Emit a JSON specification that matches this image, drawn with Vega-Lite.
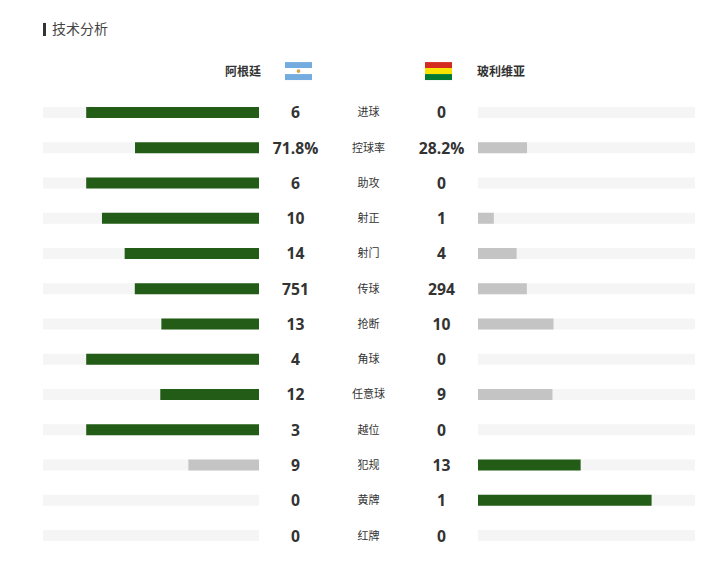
{
"$schema":"https://vega.github.io/schema/vega-lite/v6.json",
"padding":{"left":43,"right":11,"top":0,"bottom":0},
"autosize":{"type":"pad","contains":"content"},
"background":"white",
"bounds":"flush",
"spacing":0,
"config":{"view":{"stroke":null},"text":{"font":"Noto Sans CJK SC"},"concat":{"spacing":0}},
"datasets":{
"stats":[
{"row":0,"stat":"进球","home":"6","away":"0","homeShare":80,"awayShare":0,"homeResult":"lead","awayResult":"trail"},
{"row":1,"stat":"控球率","home":"71.8%","away":"28.2%","homeShare":57.4,"awayShare":22.6,"homeResult":"lead","awayResult":"trail"},
{"row":2,"stat":"助攻","home":"6","away":"0","homeShare":80,"awayShare":0,"homeResult":"lead","awayResult":"trail"},
{"row":3,"stat":"射正","home":"10","away":"1","homeShare":72.7,"awayShare":7.3,"homeResult":"lead","awayResult":"trail"},
{"row":4,"stat":"射门","home":"14","away":"4","homeShare":62.2,"awayShare":17.8,"homeResult":"lead","awayResult":"trail"},
{"row":5,"stat":"传球","home":"751","away":"294","homeShare":57.5,"awayShare":22.5,"homeResult":"lead","awayResult":"trail"},
{"row":6,"stat":"抢断","home":"13","away":"10","homeShare":45.2,"awayShare":34.8,"homeResult":"lead","awayResult":"trail"},
{"row":7,"stat":"角球","home":"4","away":"0","homeShare":80,"awayShare":0,"homeResult":"lead","awayResult":"trail"},
{"row":8,"stat":"任意球","home":"12","away":"9","homeShare":45.7,"awayShare":34.3,"homeResult":"lead","awayResult":"trail"},
{"row":9,"stat":"越位","home":"3","away":"0","homeShare":80,"awayShare":0,"homeResult":"lead","awayResult":"trail"},
{"row":10,"stat":"犯规","home":"9","away":"13","homeShare":32.7,"awayShare":47.3,"homeResult":"trail","awayResult":"lead"},
{"row":11,"stat":"黄牌","home":"0","away":"1","homeShare":0,"awayShare":80,"homeResult":"trail","awayResult":"lead"},
{"row":12,"stat":"红牌","home":"0","away":"0","homeShare":0,"awayShare":0,"homeResult":"trail","awayResult":"trail"}
],
"flags":[
{"team":"阿根廷","stripe":"top","top":-1.43,"bottom":-1.26,"color":"#74acdf"},
{"team":"阿根廷","stripe":"mid","top":-1.26,"bottom":-1.09,"color":"#ffffff"},
{"team":"阿根廷","stripe":"low","top":-1.09,"bottom":-0.92,"color":"#74acdf"},
{"team":"玻利维亚","stripe":"top","top":-1.43,"bottom":-1.26,"color":"#d52b1e"},
{"team":"玻利维亚","stripe":"mid","top":-1.26,"bottom":-1.09,"color":"#f9e300"},
{"team":"玻利维亚","stripe":"low","top":-1.09,"bottom":-0.92,"color":"#007a33"}
]
},
"hconcat":[
{
"width":216,"height":574,
"data":{"name":"stats"},
"layer":[
{"mark":{"type":"bar","orient":"horizontal","size":11,"color":"#f5f5f5"},
 "encoding":{"x":{"datum":100,"type":"quantitative","scale":{"domain":[0,100],"reverse":true,"nice":false,"padding":0},"axis":null},
 "y":{"field":"row","type":"quantitative","scale":{"domain":[-3.191,13.092],"reverse":true,"nice":false,"zero":false,"padding":0},"axis":null}}},
{"mark":{"type":"bar","orient":"horizontal","size":11},
 "encoding":{"x":{"field":"homeShare","type":"quantitative","scale":{"domain":[0,100],"reverse":true,"nice":false,"padding":0},"axis":null},
 "y":{"field":"row","type":"quantitative","scale":{"domain":[-3.191,13.092],"reverse":true,"nice":false,"zero":false,"padding":0},"axis":null},
 "color":{"field":"homeResult","type":"nominal","scale":{"domain":["lead","trail"],"range":["#225c16","#c4c4c4"]},"legend":null}}},
{"data":{"values":[{"label":"技术分析","row":-2.355}]},
 "mark":{"type":"text","align":"left","baseline":"middle","fontSize":14,"color":"#444444","dy":1},
 "encoding":{"x":{"datum":95.8,"type":"quantitative"},"y":{"field":"row","type":"quantitative"},"text":{"field":"label"}}},
{"data":{"values":[{"label":"技术分析","top":-2.54,"bottom":-2.17}]},
 "mark":{"type":"rect","color":"#333333"},
 "encoding":{"x":{"datum":100,"type":"quantitative"},"x2":{"datum":98.6},"y":{"field":"top","type":"quantitative"},"y2":{"field":"bottom"}}}
]
},
{
"width":219,"height":574,
"layer":[
{"data":{"name":"stats"},"mark":{"type":"text","baseline":"middle","fontSize":11,"color":"#333333","dy":1},
 "encoding":{"x":{"datum":0,"type":"quantitative","scale":{"domain":[-109.5,109.5],"nice":false},"axis":null},
 "y":{"field":"row","type":"quantitative","scale":{"domain":[-3.191,13.092],"reverse":true,"nice":false,"zero":false},"axis":null},
 "text":{"field":"stat"}}},
{"data":{"name":"stats"},"mark":{"type":"text","baseline":"middle","fontSize":15.7,"fontWeight":"bold","font":"Open Sans","color":"#333333","dy":1},
 "encoding":{"x":{"datum":-73,"type":"quantitative"},"y":{"field":"row","type":"quantitative"},"text":{"field":"home"}}},
{"data":{"name":"stats"},"mark":{"type":"text","baseline":"middle","fontSize":15.7,"fontWeight":"bold","font":"Open Sans","color":"#333333","dy":1},
 "encoding":{"x":{"datum":73,"type":"quantitative"},"y":{"field":"row","type":"quantitative"},"text":{"field":"away"}}},
{"data":{"values":[{"team":"阿根廷","row":-1.163}]},"mark":{"type":"text","align":"right","baseline":"middle","fontSize":12,"fontWeight":"bold","color":"#333333","dy":1},
 "encoding":{"x":{"datum":-107.5,"type":"quantitative"},"y":{"field":"row","type":"quantitative"},"text":{"field":"team"}}},
{"data":{"name":"flags"},"transform":[{"filter":"datum.team==='阿根廷'"}],"mark":{"type":"rect"},
 "encoding":{"x":{"datum":-83.5,"type":"quantitative"},"x2":{"datum":-56.5},"y":{"field":"top","type":"quantitative"},"y2":{"field":"bottom"},"color":{"field":"color","type":"nominal","scale":null}}},
{"data":{"name":"flags"},"transform":[{"filter":"datum.team==='玻利维亚'"}],"mark":{"type":"rect"},
 "encoding":{"x":{"datum":56.5,"type":"quantitative"},"x2":{"datum":83.5},"y":{"field":"top","type":"quantitative"},"y2":{"field":"bottom"},"color":{"field":"color","type":"nominal","scale":null}}},
{"data":{"values":[{"team":"阿根廷","row":-1.175}]},"mark":{"type":"point","filled":true,"size":14,"color":"#e0a040","opacity":1},
 "encoding":{"x":{"datum":-70,"type":"quantitative"},"y":{"field":"row","type":"quantitative"}}}
]
},
{
"width":217,"height":574,
"data":{"name":"stats"},
"layer":[
{"mark":{"type":"bar","orient":"horizontal","size":11,"color":"#f5f5f5"},
 "encoding":{"x":{"datum":100,"type":"quantitative","scale":{"domain":[0,100],"nice":false,"padding":0},"axis":null},
 "y":{"field":"row","type":"quantitative","scale":{"domain":[-3.191,13.092],"reverse":true,"nice":false,"zero":false,"padding":0},"axis":null}}},
{"mark":{"type":"bar","orient":"horizontal","size":11},
 "encoding":{"x":{"field":"awayShare","type":"quantitative","scale":{"domain":[0,100],"nice":false,"padding":0},"axis":null},
 "y":{"field":"row","type":"quantitative","scale":{"domain":[-3.191,13.092],"reverse":true,"nice":false,"zero":false,"padding":0},"axis":null},
 "color":{"field":"awayResult","type":"nominal","scale":{"domain":["lead","trail"],"range":["#225c16","#c4c4c4"]},"legend":null}}},
{"data":{"values":[{"team":"玻利维亚","row":-1.163}]},"mark":{"type":"text","align":"left","baseline":"middle","fontSize":12,"fontWeight":"bold","dx":-1,"dy":1,"color":"#333333"},
 "encoding":{"x":{"datum":0,"type":"quantitative"},"y":{"field":"row","type":"quantitative"},"text":{"field":"team"}}}
]
}
]
}
